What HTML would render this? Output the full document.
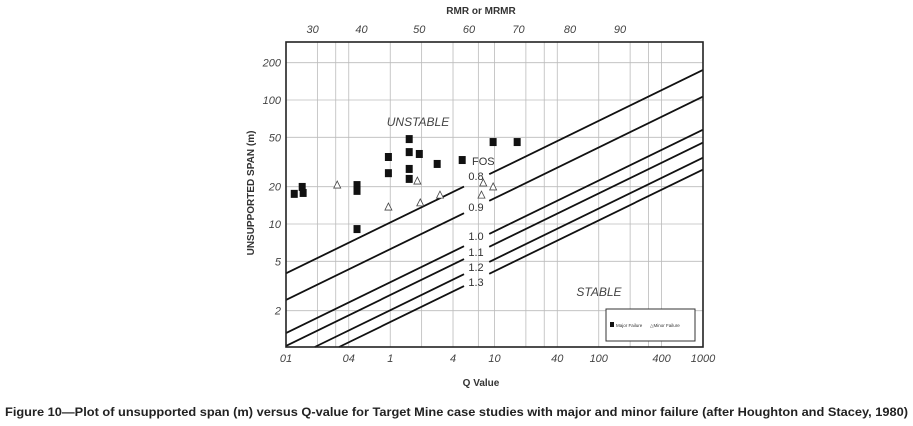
<!DOCTYPE html>
<html><head><meta charset="utf-8"><style>
html,body{margin:0;padding:0;background:#fff;width:913px;height:426px;overflow:hidden}
svg{display:block;font-family:"Liberation Sans",sans-serif}
</style></head><body>
<svg id="chart" width="913" height="426" viewBox="0 0 913 426" xmlns="http://www.w3.org/2000/svg">
<g id="grid"></g>
<g id="lines"></g>
<g id="pts"></g>
<rect x="286" y="42" width="417" height="305" fill="none" stroke="#222" stroke-width="1.6"/>
<g id="labels" font-style="italic" fill="#444" font-size="11"></g>
<text x="481" y="14" text-anchor="middle" font-size="10" font-weight="bold" fill="#333">RMR or MRMR</text>
<text x="481" y="386" text-anchor="middle" font-size="10" font-weight="bold" fill="#333">Q Value</text>
<text transform="translate(254,193) rotate(-90)" text-anchor="middle" font-size="10" font-weight="bold" fill="#333">UNSUPPORTED SPAN (m)</text>
<text x="418" y="126" text-anchor="middle" font-size="12" font-style="italic" fill="#444">UNSTABLE</text>
<text x="599" y="296" text-anchor="middle" font-size="12" font-style="italic" fill="#444">STABLE</text>
<text x="472" y="165" font-size="11" fill="#333">FOS</text>
<g>
<rect x="606" y="309" width="89" height="32" fill="#fff" stroke="#333" stroke-width="1"/>
<rect x="610" y="322" width="4" height="5" fill="#111"/>
<text x="616" y="327" font-size="4.5" fill="#333">Major Failure</text>
<text x="650" y="327" font-size="4.5" fill="#333">△Minor Failure</text>
</g>
<text x="5" y="416" font-size="12" font-weight="bold" fill="#222" textLength="903" lengthAdjust="spacingAndGlyphs">Figure 10—Plot of unsupported span (m) versus Q-value for Target Mine case studies with major and minor failure (after Houghton and Stacey, 1980)</text>
</svg>
<script>
const xTickValues=[0.1,0.4,1,4,10,40,100,400,1000];
const xTickLabels=["01","04","1","4","10","40","100","400","1000"];
const yTickValues=[200,100,50,20,10,5,2];
const yTickLabels=["200","100","50","20","10","5","2"];
const xGridValues=[0.2,0.3,0.4,1,2,4,7,10,20,30,40,100,200,300,400];
const rmrLabels=["30","40","50","60","70","80","90"];
const rmrQ=[0.18,0.53,1.9,5.7,17,53,160];
const fosLabels=["0.8","0.9","1.0","1.1","1.2","1.3"];
const fosSpanAtQ01=[4.0,2.44,1.32,1.04,0.785,0.63];
const fosExponent=[0.41,0.41,0.41,0.41,0.41,0.41];
const majorQ=[0.12,0.143,0.146,0.48,0.48,0.48,0.96,0.96,1.52,1.52,1.52,1.52,1.9,2.82,4.9,9.7,16.5];
const majorSpan=[17.5,19.9,17.8,20.6,18.5,9.1,34.7,25.7,48.4,38,27.8,23.1,36.7,30.5,32.8,45.8,45.8];
const minorQ=[0.31,0.96,1.82,1.94,3.0,7.5,7.8,9.7];
const minorSpan=[20.6,13.7,22.2,14.8,17.1,17.1,21.4,19.9];

const NS="http://www.w3.org/2000/svg";
const X0=286,X1=703,Y0=42,Y1=347;
const xs=q=>X0+(Math.log10(q)+1)*(X1-X0)/4;
const ys=s=>100+(2-Math.log10(s))*124;
const qMin=0.1,qMax=1000,sMin=Math.pow(10,2-(Y1-100)/124),sMax=Math.pow(10,2+(100-Y0)/124);
function mk(tag,attrs,parent){const e=document.createElementNS(NS,tag);for(const k in attrs)e.setAttribute(k,attrs[k]);parent.appendChild(e);return e;}
const grid=document.getElementById('grid'),lines=document.getElementById('lines'),pts=document.getElementById('pts'),labels=document.getElementById('labels');
xGridValues.forEach(q=>{const l=mk('line',{x1:xs(q),x2:xs(q),y1:Y0,y2:Y1,stroke:'#bbb','stroke-width':0.8},grid);

});
yTickValues.forEach(s=>{const l=mk('line',{x1:X0,x2:X1,y1:ys(s),y2:ys(s),stroke:'#bbb','stroke-width':0.8},grid);

});
xTickValues.forEach((q,i)=>{const t=mk('text',{x:xs(q),y:362,'text-anchor':'middle'},labels);t.textContent=xTickLabels[i];

});
yTickValues.forEach((s,i)=>{const t=mk('text',{x:281,y:ys(s)+4,'text-anchor':'end'},labels);t.textContent=yTickLabels[i];

});
rmrLabels.forEach((r,i)=>{const t=mk('text',{x:xs(rmrQ[i]),y:33,'text-anchor':'middle'},labels);t.textContent=r;

});
// FOS lines with gap for labels
const gapA=5.1,gapB=8.9;
fosLabels.forEach((lab,i)=>{
 const f=q=>fosSpanAtQ01[i]*Math.pow(q/0.1,fosExponent[i]);
 let qs=0.1; if(f(qs)<sMin) qs=0.1*Math.pow(sMin/fosSpanAtQ01[i],1/fosExponent[i]);
 let qe=1000; if(f(qe)>sMax) qe=0.1*Math.pow(sMax/fosSpanAtQ01[i],1/fosExponent[i]);
 const segs=[[qs,gapA],[gapB,qe]];
 segs.forEach(([a,b])=>{if(b<=a)return;const l=mk('line',{x1:xs(a),y1:ys(f(a)),x2:xs(b),y2:ys(f(b)),stroke:'#111','stroke-width':1.8},lines);
 
 });
 const ly=[180,211,240,256,271,286][i];
 const t=mk('text',{x:476,y:ly,'text-anchor':'middle','font-size':11,fill:'#333'},lines);t.textContent=lab;
 
 
});
majorQ.forEach((q,i)=>{const r=mk('rect',{x:xs(q)-3.5,y:ys(majorSpan[i])-4,width:7,height:8,fill:'#111'},pts);

});
minorQ.forEach((q,i)=>{const x=xs(q),y=ys(minorSpan[i]);const p=mk('polygon',{points:`${x},${y-4} ${x-3.5},${y+3} ${x+3.5},${y+3}`,fill:'#fff',stroke:'#444','stroke-width':0.8},pts);

});
</script>
</body></html>
